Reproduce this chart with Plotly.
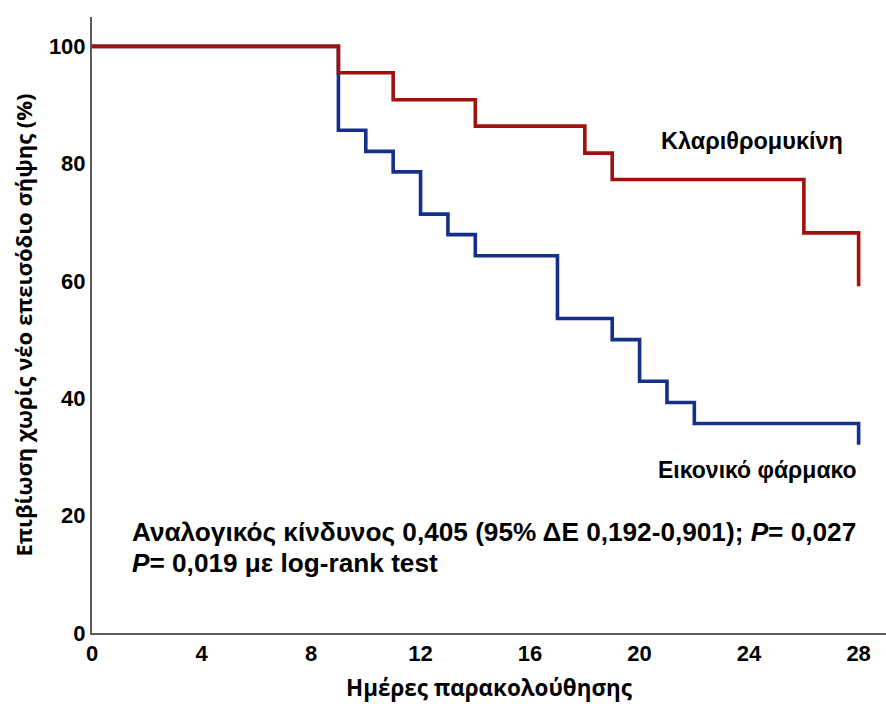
import plotly.graph_objects as go

# Data
clar_days = [0, 9, 11, 14, 18, 19, 26, 28]
clar_surv = [100, 95.5, 90.9, 86.4, 81.8, 77.3, 68.2, 59.1]

plac_days = [0, 9, 10, 11, 12, 13, 14, 17, 19, 20, 21, 22, 28]
plac_surv = [100, 85.7, 82.1, 78.6, 71.4, 67.9, 64.3, 53.6, 50.0, 42.9, 39.3, 35.7, 32.1]

x_ticks = [0, 4, 8, 12, 16, 20, 24, 28]
y_ticks = [0, 20, 40, 60, 80, 100]

RED = "#a0100c"
BLUE = "#15308a"
FONT = "Liberation Sans"
TFONT = "Open Sans"

fig = go.Figure()
fig.add_trace(go.Scatter(x=plac_days, y=plac_surv, mode="lines", line_shape="hv",
                         line=dict(color=BLUE, width=3.6), name="Εικονικό φάρμακο",
                         showlegend=False))
fig.add_trace(go.Scatter(x=clar_days, y=clar_surv, mode="lines", line_shape="hv",
                         line=dict(color=RED, width=3.6), name="Κλαριθρομυκίνη",
                         showlegend=False))

fig.add_annotation(x=27.5, y=83.8, xref="x", yref="y", text="Κλαριθρομυκίνη",
                   showarrow=False, xanchor="right", yanchor="middle",
                   font=dict(family=FONT, size=23.5, color="black", weight="bold"))
fig.add_annotation(x=28.0, y=27.8, xref="x", yref="y", text="Εικονικό φάρμακο",
                   showarrow=False, xanchor="right", yanchor="middle",
                   font=dict(family=FONT, size=23, color="black", weight="bold"))
fig.add_annotation(x=1.39, y=17.2, xref="x", yref="y",
                   text="Αναλογικός κίνδυνος 0,405 (95% ΔΕ 0,192-0,901); <i>P</i>= 0,027",
                   showarrow=False, xanchor="left", yanchor="middle",
                   font=dict(family=FONT, size=26.2, color="black", weight="bold"))
fig.add_annotation(x=1.39, y=11.9, xref="x", yref="y",
                   text="<i>P</i>= 0,019 με log-rank test",
                   showarrow=False, xanchor="left", yanchor="middle",
                   font=dict(family=FONT, size=26.2, color="black", weight="bold"))

fig.update_layout(
    width=886, height=704,
    margin=dict(l=92, r=0, t=17, b=71),
    paper_bgcolor="white", plot_bgcolor="white",
    xaxis=dict(range=[0, 29], tickvals=x_ticks, showgrid=False, zeroline=False,
               showline=True, linecolor="#5a5a5a", linewidth=2, ticks="",
               tickfont=dict(family=FONT, size=22, color="black", weight="bold"),
               title=dict(text="Ημέρες παρακολούθησης", standoff=15,
                          font=dict(family=TFONT, size=22.4, color="black", weight="bold"))),
    yaxis=dict(range=[0, 105], tickvals=y_ticks, showgrid=False, zeroline=False,
               showline=True, linecolor="#5a5a5a", linewidth=2, ticks="",
               tickfont=dict(family=FONT, size=22, color="black", weight="bold"),
               title=dict(text="Επιβίωση χωρίς νέο επεισόδιο σήψης (%)", standoff=10,
                          font=dict(family=TFONT, size=22, color="black", weight="bold"))),
)

fig.write_html("out.html")
